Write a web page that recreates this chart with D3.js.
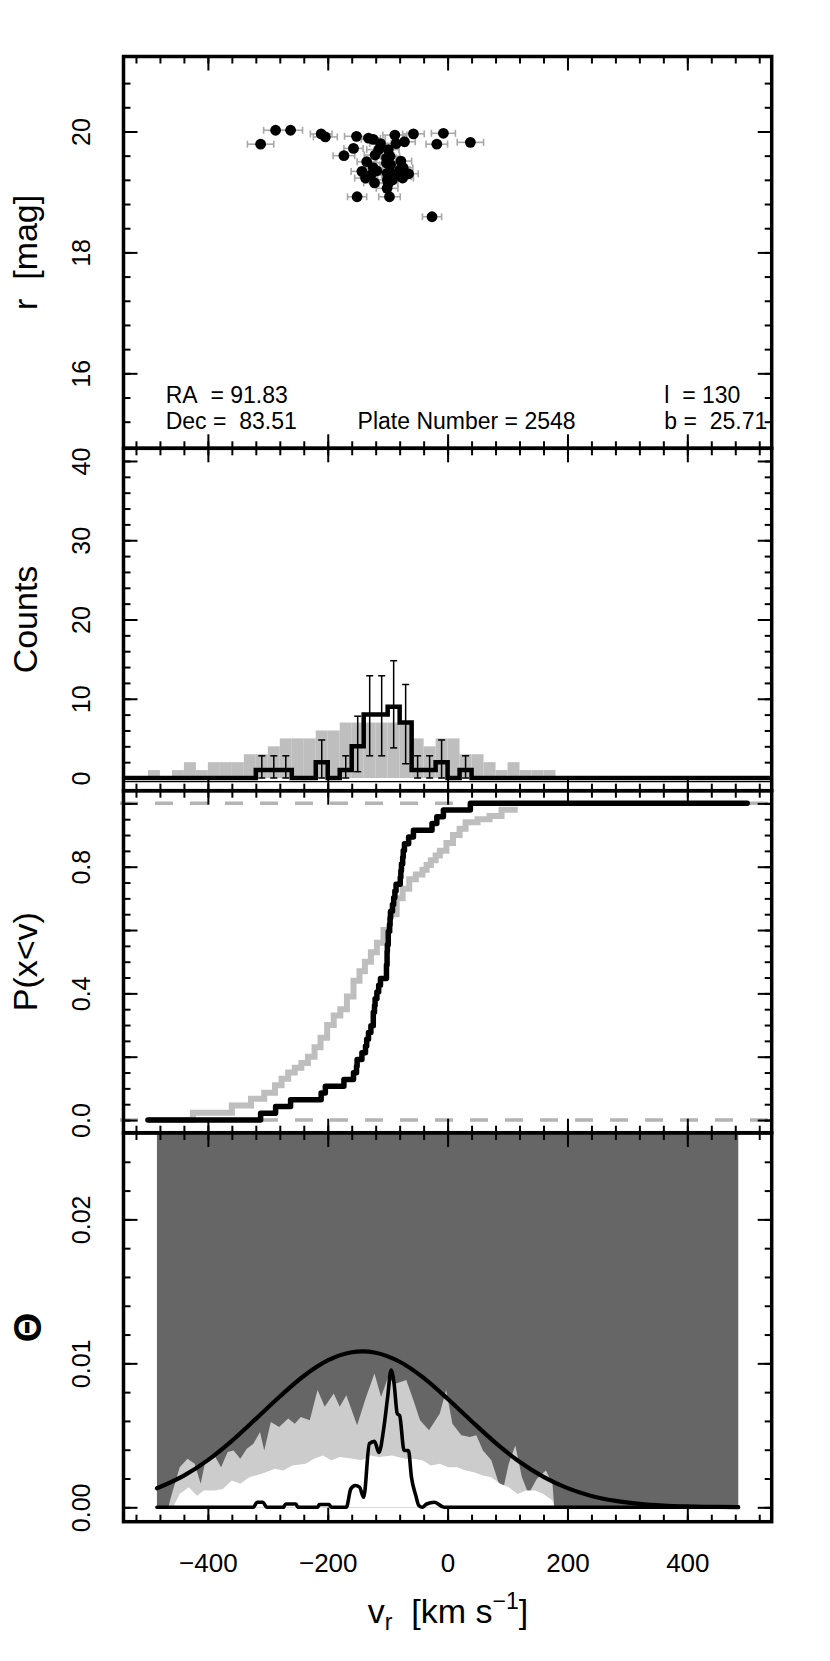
<!DOCTYPE html>
<html><head><meta charset="utf-8">
<script src="https://cdn.jsdelivr.net/npm/d3@7"></script>
<style>
html,body{margin:0;padding:0;background:#fff;}
svg text{font-family:"Liberation Sans",Arial,Helvetica,sans-serif;fill:#000;}
</style></head><body>
<svg id="chart" width="830" height="1661" xmlns="http://www.w3.org/2000/svg"></svg>
<script>
// ---------------- DATA ----------------
// Panel 1: stars (radial velocity, r magnitude, velocity error)
const starVel = [-312,-287,-262,-211,-204,-173,-157,-152,-151,-143,-137,-135,-132,-128,-124,-124,-122,-121,-118,-115,-112,-102,-102,-101,-101,-100.5,-99,-99,-97,-96,-95,-92,-90,-88,-86,-79,-78,-77,-75,-74,-72,-65,-57,-26,-18,-7,38];
const starMag = [19.79,20.02,20.02,19.96,19.91,19.60,19.72,19.92,18.92,19.34,19.23,19.50,19.89,19.28,19.87,19.40,19.15,19.61,19.35,19.70,19.80,19.56,19.48,19.31,19.06,19.20,19.70,19.14,18.92,19.59,19.45,19.20,19.30,19.94,19.80,19.37,19.51,19.25,19.23,19.40,19.83,19.30,19.96,18.59,19.79,19.97,19.82];
const starErr = [22,20,20,18,20,18,16,20,16,18,18,16,20,18,20,16,18,18,16,20,18,16,18,16,18,16,18,16,18,16,18,16,18,20,18,16,18,16,18,16,18,16,18,16,18,20,22];
const annotLeft = ["RA\u00a0\u00a0= 91.83", "Dec =\u00a0\u00a083.51"];
const annotMid = "Plate Number = 2548";
const annotRight = ["l\u00a0\u00a0= 130", "b =\u00a0\u00a025.71"];

// Panel 2: histograms (bin width 20 km/s)
const binWidth = 20;
const obsBinStart = [-320,-300,-280,-260,-240,-220,-200,-180,-160,-140,-120,-100,-80,-60,-40,-20,0,20];
const obsCounts   = [1,1,1,0,0,2,0,1,4,8,8,9,7,1,1,2,0,1];
const obsUpper    = [2.8,2.8,2.8,0,0,4.8,0,2.8,7.8,12.9,12.9,14.8,11.8,2.8,2.8,4.8,0,2.8];
const obsLower    = [0,0,0,0,0,0,0,0,0.8,2.8,2.8,3.8,1.8,0,0,0,0,0];
const modelBinStart = [-500,-480,-460,-440,-420,-400,-380,-360,-340,-320,-300,-280,-260,-240,-220,-200,-180,-160,-140,-120,-100,-80,-60,-40,-20,0,20,40,60,80,100,120,140,160];
const modelCounts   = [1,0,1,2,1,2,2,2,3,3,4,5,5,5,6,6,7,7,7,7,7,7,5,4,5,5,3,3,2,1,2,1,1,1];

// Panel 3: model cumulative distribution
const modelCdfV = [-500,-425,-360,-328,-306,-288,-277,-266,-255,-244,-233,-222,-212,-201,-190,-179,-168,-157,-147,-138,-128,-118,-107,-96,-85,-75,-64,-53,-42,-35,-28,-20,-13,-2,9,20,30,50,70,90,117];
const modelCdfP = [0,0.023,0.046,0.067,0.086,0.11,0.13,0.15,0.165,0.18,0.2,0.23,0.26,0.3,0.33,0.35,0.39,0.44,0.47,0.5,0.53,0.56,0.6,0.65,0.7,0.73,0.76,0.775,0.79,0.805,0.82,0.835,0.85,0.875,0.9,0.92,0.94,0.95,0.96,0.98,0.98];

// Panel 4: Theta
const thetaRange = [-485, 485];
const band2V = [-466,-461,-447,-434,-422,-412,-404,-389,-378,-367,-357,-346,-335,-324,-313,-306,-295,-281,-266,-255,-245,-230,-217,-205,-190,-180,-169,-151,-136,-122,-111,-100,-86,-69,-57,-46,-31,-13,-2.5,8,23,37,48,59,73,91,102,113,124,135,149,164,175,178];
const band2Val = [0,0.0008,0.00279,0.00337,0.00302,0.00163,0.00326,0.0036,0.00279,0.00384,0.00395,0.00337,0.00407,0.00442,0.00523,0.00395,0.00593,0.00558,0.00616,0.00581,0.00628,0.00605,0.00814,0.00698,0.00791,0.00698,0.00779,0.0057,0.00767,0.0093,0.00767,0.00895,0.0086,0.00884,0.00744,0.00605,0.00535,0.00651,0.00814,0.00581,0.005,0.00488,0.005,0.00395,0.00326,0.00093,0.00302,0.0043,0.00209,0.00093,0.00198,0.00256,0.00163,0];
const band1V = [-458,-447,-432,-418,-407,-389,-375,-360,-346,-331,-310,-288,-274,-259,-237,-223,-208,-194,-180,-158,-143,-129,-115,-93,-71,-57,-42,-28,-13,1,16,30,44,59,73,88,102,117,131,146,160,175,178];
const band1Val = [0,0.00093,0.0014,0.00081,0.00116,0.00116,0.00128,0.00186,0.00163,0.00209,0.00233,0.00267,0.00256,0.00291,0.00302,0.00337,0.0036,0.00326,0.00349,0.00337,0.00326,0.0036,0.00349,0.0036,0.00337,0.00337,0.00326,0.00291,0.00302,0.00279,0.00279,0.00256,0.00244,0.00221,0.00209,0.00163,0.0014,0.00093,0.00116,0.00116,0.00093,0.00047,0];
const gaussV = [-485,-440,-400,-360,-320,-280,-240,-200,-160,-142,-120,-80,-40,0,40,80,120,160,200,240,280,320,360,400,440,485];
const gaussVal = [0.00132,0.0022,0.00328,0.00462,0.00614,0.0077,0.00912,0.0102,0.01077,0.01083,0.01074,0.01011,0.00899,0.00754,0.00598,0.00448,0.00316,0.00211,0.00133,0.00079,0.00045,0.00024,0.00012,0.00006,0.00003,0.00001];
const thetaV = [-485,-324,-318,-308,-302,-274,-270,-253,-250,-217,-214,-198,-194,-169,-161.5,-154,-147,-140,-130.5,-122,-114.5,-107,-100,-94.3,-89.3,-84,-80,-72.6,-65.4,-60.3,-53,-48,-42,-35,-22,-6,485];
const thetaVal = [0,0,0.00035,0.00035,0,0,0.00023,0.00023,0,0,0.00019,0.00019,0,0,0.00128,0.00151,0.0014,0.0007,0.00442,0.00458,0.00381,0.00535,0.00767,0.00953,0.0086,0.00651,0.00637,0.00395,0.00395,0.00209,0.00081,0.00012,0,0.00023,0.00035,0,0];

// Axis ticks
const velMajor = [-400,-200,0,200,400];
const velMinor = d3.range(-13,14).map(i => i*40);
const magMajor = [16,18,20];
const magMinor = d3.range(38,53).map(i => +(i*0.4).toFixed(1));
const countMajor = [0,10,20,30,40];
const countMinor = d3.range(0,21).map(i => i*2);
const probMajor = [0,0.2,0.4,0.6,0.8,1.0];
const probLabels = [0,0.4,0.8];
const probMinor = d3.range(0,21).map(i => +(i*0.05).toFixed(2));
const thetaMajor = [0,0.01,0.02];
const thetaMinor = d3.range(0,13).map(i => +(i*0.002).toFixed(3));

// ---------------- LAYOUT ----------------
const svg = d3.select("#chart");
const X0 = 123.5, X1 = 771.7;
const x = d3.scaleLinear().domain([-540.8, 540.8]).range([X0, X1]);
const yMag = d3.scaleLinear().domain([14.76, 21.24]).range([448.3, 56.5]);
const yCnt = d3.scaleLinear().domain([-1.6, 41.6]).range([790.7, 448.3]);
const yP   = d3.scaleLinear().domain([-0.04, 1.04]).range([1132.7, 790.7]);
const yTh  = d3.scaleLinear().domain([-0.001, 0.026]).range([1521.7, 1133]);

const TICK_FS = 25, TITLE_FS = 34;

function axes(y, major, minor, labelVals, fmt, title, titleIsTheta, showX) {
  const g = svg.append("g");
  const top = y.range()[1], bot = y.range()[0];
  const isLab = d => labelVals.some(v => Math.abs(v - d) < 1e-9);
  const style = sel => { sel.select(".domain").remove(); sel.selectAll("line").attr("stroke","#000").attr("stroke-width",2); };
  const gl = g.append("g").attr("transform",`translate(${X0},0)`)
    .call(d3.axisLeft(y).tickValues(major).tickSize(-14).tickFormat(d => isLab(d) ? fmt(d) : ""));
  style(gl);
  gl.selectAll("text").attr("x",0).attr("dy",null).attr("text-anchor","middle")
    .attr("font-size",TICK_FS).attr("font-family",'"Liberation Sans",Arial,sans-serif').attr("fill","#000")
    .attr("transform","translate(-33.5,0) rotate(-90)");
  style(g.append("g").attr("transform",`translate(${X0},0)`).call(d3.axisLeft(y).tickValues(minor).tickSize(-7).tickFormat("")));
  style(g.append("g").attr("transform",`translate(${X1},0)`).call(d3.axisRight(y).tickValues(major).tickSize(-14).tickFormat("")));
  style(g.append("g").attr("transform",`translate(${X1},0)`).call(d3.axisRight(y).tickValues(minor).tickSize(-7).tickFormat("")));
  style(g.append("g").attr("transform",`translate(0,${top})`).call(d3.axisTop(x).tickValues(velMajor).tickSize(-14).tickFormat("")));
  style(g.append("g").attr("transform",`translate(0,${top})`).call(d3.axisTop(x).tickValues(velMinor).tickSize(-7).tickFormat("")));
  const gb = g.append("g").attr("transform",`translate(0,${bot})`)
    .call(d3.axisBottom(x).tickValues(velMajor).tickSize(-14).tickFormat(showX ? d3.format("d") : ""));
  style(gb);
  if (showX) {
    gb.selectAll("text").attr("y",50).attr("dy",null).attr("font-size",TICK_FS+1)
      .attr("font-family",'"Liberation Sans",Arial,sans-serif').attr("fill","#000");
  }
  style(g.append("g").attr("transform",`translate(0,${bot})`).call(d3.axisBottom(x).tickValues(velMinor).tickSize(-7).tickFormat("")));
  g.append("rect").attr("x",X0).attr("y",top).attr("width",X1-X0).attr("height",bot-top)
    .attr("fill","none").attr("stroke","#000").attr("stroke-width",3.5);
  const cy = (top+bot)/2;
  const t = svg.append("text").attr("transform",`translate(${titleIsTheta?41:37},${cy}) rotate(-90)`)
    .attr("text-anchor","middle").attr("font-size",titleIsTheta?38:TITLE_FS);
  if (titleIsTheta) t.attr("font-family",'"DejaVu Serif",serif').attr("font-weight","bold");
  t.text(title);
}

// ---------------- PANEL 1 ----------------
const stars = starVel.map((v,i) => ({v, m: starMag[i], e: starErr[i]}));
const p1 = svg.append("g");
p1.selectAll("g.err").data(stars).join("g").attr("class","err").each(function(d){
  const g = d3.select(this), yy = yMag(d.m), xa = x(d.v-d.e), xb = x(d.v+d.e);
  g.append("line").attr("x1",xa).attr("x2",xb).attr("y1",yy).attr("y2",yy);
  g.append("line").attr("x1",xa).attr("x2",xa).attr("y1",yy-3.5).attr("y2",yy+3.5);
  g.append("line").attr("x1",xb).attr("x2",xb).attr("y1",yy-3.5).attr("y2",yy+3.5);
}).attr("stroke","#a8a8a8").attr("stroke-width",1.6);
p1.selectAll("circle").data(stars).join("circle")
  .attr("cx",d=>x(d.v)).attr("cy",d=>yMag(d.m)).attr("r",5.4).attr("fill","#000");
const ann = svg.append("g").attr("font-size",23);
ann.append("text").attr("x",165.7).attr("y",402.7).text(annotLeft[0]);
ann.append("text").attr("x",165.7).attr("y",429.3).text(annotLeft[1]);
ann.append("text").attr("x",357.6).attr("y",429.3).text(annotMid);
ann.append("text").attr("x",664.3).attr("y",402.7).text(annotRight[0]);
ann.append("text").attr("x",664.3).attr("y",429.3).text(annotRight[1]);
axes(yMag, magMajor, magMinor, magMajor, d=>d3.format("d")(d), "r\u00a0\u00a0[mag]", false, false);

// ---------------- PANEL 2 ----------------
const p2 = svg.append("g");
p2.selectAll("rect.model").data(modelBinStart.map((s,i)=>({s,c:modelCounts[i]}))).join("rect")
  .attr("class","model").attr("x",d=>x(d.s)).attr("width",d=>x(d.s+binWidth)-x(d.s))
  .attr("y",d=>yCnt(d.c)).attr("height",d=>yCnt(0)-yCnt(d.c)).attr("fill","#bebebe");
p2.append("line").attr("x1",X0).attr("x2",X1).attr("y1",yCnt(-0.45)).attr("y2",yCnt(-0.45))
  .attr("stroke","#000").attr("stroke-width",1.4);
const obsPts = [[x.domain()[0],0]].concat(obsBinStart.map((s,i)=>[s,obsCounts[i]]))
  .concat([[obsBinStart[obsBinStart.length-1]+binWidth,0],[x.domain()[1],0]]);
p2.append("path").attr("d", d3.line().x(d=>x(d[0])).y(d=>yCnt(d[1])).curve(d3.curveStepAfter)(obsPts))
  .attr("fill","none").attr("stroke","#000").attr("stroke-width",4.5).attr("stroke-linejoin","miter");
const errs = obsBinStart.map((s,i)=>({c:s+binWidth/2,hi:obsUpper[i],lo:obsLower[i],n:obsCounts[i]})).filter(d=>d.n>0);
const eg = p2.append("g").attr("stroke","#000").attr("stroke-width",1.5);
errs.forEach(d=>{
  const xc = x(d.c);
  eg.append("line").attr("x1",xc).attr("x2",xc).attr("y1",yCnt(d.lo)).attr("y2",yCnt(d.hi));
  eg.append("line").attr("x1",xc-3.5).attr("x2",xc+3.5).attr("y1",yCnt(d.lo)).attr("y2",yCnt(d.lo));
  eg.append("line").attr("x1",xc-3.5).attr("x2",xc+3.5).attr("y1",yCnt(d.hi)).attr("y2",yCnt(d.hi));
});
axes(yCnt, countMajor, countMinor, countMajor, d=>d3.format("d")(d), "Counts", false, false);

// ---------------- PANEL 3 ----------------
const p3 = svg.append("g");
[0,1].forEach(p => p3.append("line").attr("x1",X0-3.5).attr("x2",X1).attr("y1",yP(p)).attr("y2",yP(p))
  .attr("stroke","#b4b4b4").attr("stroke-width",3.5).attr("stroke-dasharray","18,17"));
const lineP = d3.line().x(d=>x(d[0])).y(d=>yP(d[1])).curve(d3.curveStepAfter);
p3.append("path").attr("d", lineP(modelCdfV.map((v,i)=>[v,modelCdfP[i]])))
  .attr("fill","none").attr("stroke","#bebebe").attr("stroke-width",6);
const sorted = starVel.slice().sort(d3.ascending);
const nS = sorted.length;
const obsCdf = [[-500,0]].concat(sorted.map((v,i)=>[v,(i+1)/nS])).concat([[500,1]]);
p3.append("path").attr("d", lineP(obsCdf))
  .attr("fill","none").attr("stroke","#000").attr("stroke-width",5.5)
  .attr("stroke-linecap","round").attr("stroke-linejoin","round");
axes(yP, probMajor, probMinor, probLabels, d=>d3.format(".1f")(d), "P(x<v)", false, false);

// ---------------- PANEL 4 ----------------
const p4 = svg.append("g");
p4.append("rect").attr("x",x(thetaRange[0])).attr("width",x(thetaRange[1])-x(thetaRange[0]))
  .attr("y",yTh(0.026)).attr("height",yTh(0)-yTh(0.026)).attr("fill","#666666");
const area = d3.area().x(d=>x(d[0])).y0(yTh(0)).y1(d=>yTh(d[1]));
p4.append("path").attr("d", area(band2V.map((v,i)=>[v,band2Val[i]]))).attr("fill","#cccccc");
p4.append("path").attr("d", area(band1V.map((v,i)=>[v,band1Val[i]]))).attr("fill","#ffffff");
p4.append("path").attr("d", d3.line().x(d=>x(d[0])).y(d=>yTh(d[1])).curve(d3.curveMonotoneX)(gaussV.map((v,i)=>[v,gaussVal[i]])))
  .attr("fill","none").attr("stroke","#000").attr("stroke-width",4.2).attr("stroke-linecap","round");
p4.append("path").attr("d", d3.line().x(d=>x(d[0])).y(d=>yTh(d[1])).curve(d3.curveMonotoneX)(thetaV.map((v,i)=>[v,thetaVal[i]])))
  .attr("fill","none").attr("stroke","#000").attr("stroke-width",3.6).attr("stroke-linecap","round").attr("stroke-linejoin","round");
axes(yTh, thetaMajor, thetaMinor, thetaMajor, d=>d3.format(".2f")(d), "Θ", true, true);

// x-axis title
const xt = svg.append("text").attr("x",448).attr("y",1623).attr("text-anchor","middle").attr("font-size",34);
xt.append("tspan").text("v");
xt.append("tspan").attr("font-size",23).attr("dy",7).text("r");
xt.append("tspan").attr("dy",-7).text("\u00a0\u00a0[km s");
xt.append("tspan").attr("font-size",23).attr("dy",-14).text("\u22121");
xt.append("tspan").attr("dy",14).text("]");
</script></body></html>
